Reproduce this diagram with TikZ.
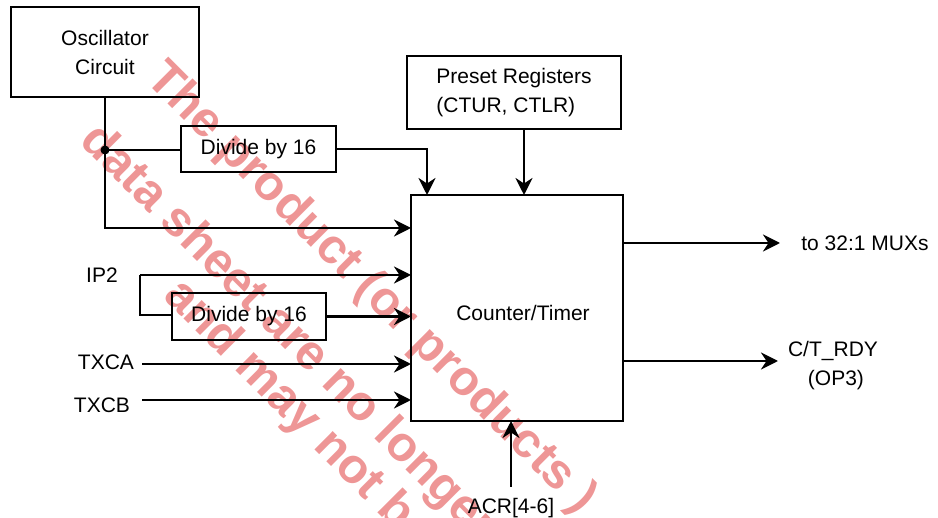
\documentclass[tikz,border=0pt]{standalone}
\usepackage{fontspec}
\setmainfont{Liberation Sans}
\usetikzlibrary{arrows.meta}
\definecolor{wmpink}{RGB}{238,150,150}
\begin{document}
\begin{tikzpicture}[x=1pt,y=-1pt,
  box/.style={draw, line width=2.6pt, inner sep=0pt, outer sep=0pt, font=\fontsize{21}{29}\selectfont, align=center},
  lbl/.style={inner sep=2pt, font=\fontsize{21}{29}\selectfont, align=center},
  wire/.style={line width=2.6pt},
  arr/.style={wire, -{Stealth[length=17pt,width=17pt,inset=5.5pt]}},
  wm/.style={font=\bfseries\fontsize{49}{60}\selectfont, text=wmpink, rotate=-45, anchor=base west, inner sep=0pt}
]
\useasboundingbox (0,0) rectangle (938,518);
\begin{scope}
\clip (0,0) rectangle (938,518);
\node[wm] (wm1) at (144,80) {The product (or products )};
\node[wm] (wm2) at (78,142) {data sheet are no longer};
\node[wm] (wm3) at (162,297) {and may not be};
\end{scope}

% boxes
\node[box, minimum width=188pt, minimum height=90pt] (osc) at (105,52) {Oscillator\\Circuit};
\node[box, minimum width=155pt, minimum height=46pt] (div1) at (258.5,149) {Divide by 16};
\node[box, minimum width=214pt, minimum height=73pt, align=left] (preset) at (514,92.5) {Preset Registers\\(CTUR, CTLR)};
\node[box, minimum width=212pt, minimum height=226pt] (ct) at (517,308) {};
\node[lbl] (ctl) at (523,313) {Counter/Timer};
\node[box, minimum width=154pt, minimum height=47pt] (div2) at (249,316.5) {Divide by 16};

% labels
\node[lbl] (ip2) at (102,275) {IP2};
\node[lbl] (txca) at (106,362) {TXCA};
\node[lbl] (txcb) at (102,405) {TXCB};
\node[lbl] (mux) at (865,243) {to 32:1 MUXs};
\node[lbl] (rdy) at (833,366) {C/T\_RDY\\\ (OP3)};
\node[lbl] (acr) at (511,508) {ACR[4-6]};

% coordinates
\coordinate (jn) at (105,150);
\coordinate (c1) at (427,0);
\coordinate (c2) at (524,0);
\coordinate (ipa) at (140,275);
\coordinate (ipb) at (140,315);
\coordinate (ta) at (142,364);
\coordinate (tb) at (142,400);
\coordinate (o1) at (623,243);
\coordinate (o1e) at (780,243);
\coordinate (o2) at (623,361);
\coordinate (o2e) at (778,361);
\coordinate (acrs) at (511,487);
\coordinate (acre) at (511,0);

% wires
\draw[arr] (osc.south) -- (jn) -- (105,228) -- (ct.west |- 0,228);
\draw[wire] (jn) -- (div1.west |- jn);
\fill (jn) circle (4.5pt);
\draw[arr] (div1.east) -- (div1.east -| c1) -- (ct.north -| c1);
\draw[arr] (preset.south -| c2) -- (ct.north -| c2);
\draw[arr] (ipa) -- (ct.west |- ipa);
\draw[wire] (ipa) -- (ipb) -- (div2.west |- ipb);
\draw[arr] (div2.east) -- (ct.west |- div2.east);
\draw[arr] (ta) -- (ct.west |- ta);
\draw[arr] (tb) -- (ct.west |- tb);
\draw[arr] (o1) -- (o1e);
\draw[arr] (o2) -- (o2e);
\draw[arr] (acrs) -- (ct.south -| acre);
\end{tikzpicture}
\end{document}
